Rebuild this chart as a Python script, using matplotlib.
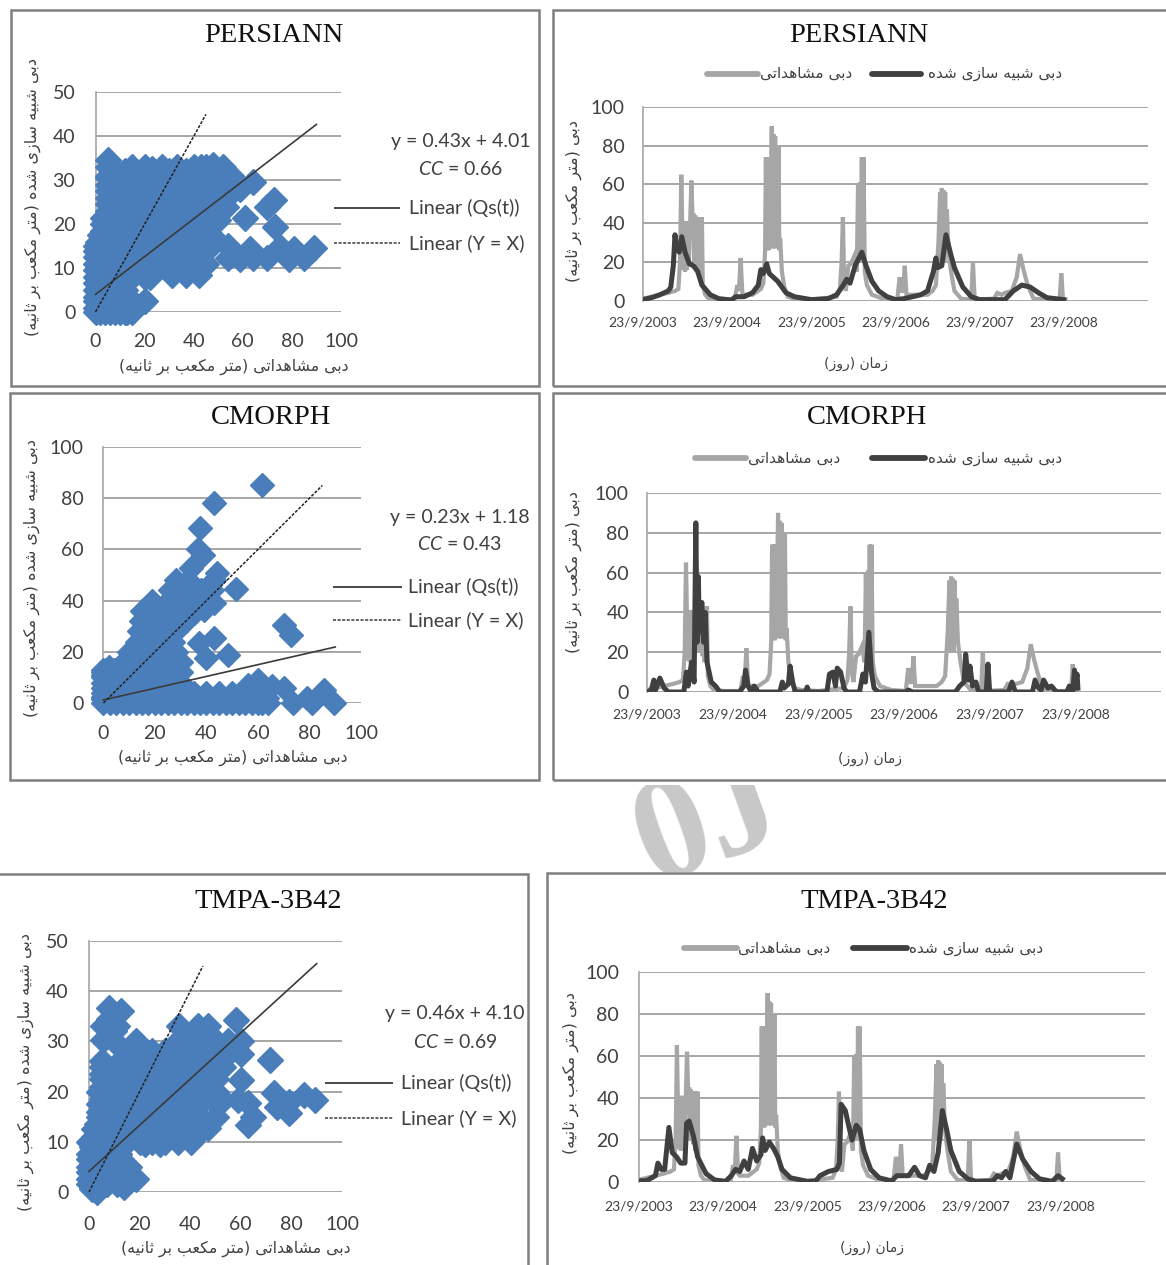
import matplotlib
matplotlib.use('Agg')
import matplotlib.pyplot as plt
from matplotlib.lines import Line2D
from matplotlib.patches import Rectangle
from matplotlib.transforms import Bbox

W, H = 1166, 1265

plt.rcParams['font.family'] = ['Lato', 'DejaVu Sans']
plt.rcParams['mathtext.fontset'] = 'custom'
plt.rcParams['mathtext.it'] = 'Lato:italic'
plt.rcParams['mathtext.rm'] = 'Lato'

# ---- labels
title_names = ['PERSIANN', 'CMORPH', 'TMPA-3B42']
date_labels = ['23/9/2003', '23/9/2004', '23/9/2005', '23/9/2006', '23/9/2007', '23/9/2008']
scatter_sim_label = 'دبی شبیه سازی شده (متر مکعب بر ثانیه)'
scatter_obs_label = 'دبی مشاهداتی (متر مکعب بر ثانیه)'
time_y_label = 'دبی (متر مکعب بر ثانیه)'
time_x_label = 'زمان (روز)'
legend_obs = 'دبی مشاهداتی'
legend_sim = 'دبی شبیه سازی شده'

# ---- fit lines: slope, intercept, cc, end of the fit line, end of the 1:1 line
fit_slope = [0.43, 0.23, 0.46]
fit_intercept = [4.01, 1.18, 4.10]
fit_cc = [0.66, 0.43, 0.69]
fit_end = [90, 90, 90]
identity_end = [45, 85, 45]
scatter_ymax = [50, 100, 50]

# ---- observed discharge, years since 23/9/2003 (same in all three time panels)
obs_t = [0, .1, .2, .3, .38, .42, .44, .455, .47, .48, .49, .5, .51, .52, .53, .54, .55, .56, .575, .59, .6, .61, .62,
         .63, .64, .65, .66, .67, .68, .69, .7, .71, .74, .78, .9, 1.09, 1.12, 1.14, 1.16, 1.18, 1.2, 1.3, 1.4, 1.43,
         1.45, 1.46, 1.47, 1.48, 1.49, 1.5, 1.51, 1.52, 1.53, 1.54, 1.55, 1.56, 1.57, 1.58, 1.59, 1.6, 1.61, 1.62,
         1.63, 1.65, 1.68, 1.72, 1.8, 2.0, 2.3, 2.34, 2.36, 2.375, 2.39, 2.41, 2.44, 2.47, 2.51, 2.54, 2.555, 2.57,
         2.58, 2.59, 2.6, 2.61, 2.62, 2.635, 2.66, 2.72, 2.85, 3.02, 3.05, 3.07, 3.09, 3.11, 3.13, 3.3, 3.38, 3.44,
         3.48, 3.51, 3.53, 3.54, 3.55, 3.56, 3.57, 3.58, 3.59, 3.6, 3.61, 3.63, 3.66, 3.7, 3.78, 3.9, 3.92, 3.94,
         4.17, 4.21, 4.26, 4.3, 4.38, 4.44, 4.48, 4.52, 4.57, 4.64, 4.8, 4.95, 4.97, 4.99, 5.02]
obs_q = [1, 2, 3, 4, 5, 6, 20, 65, 30, 16, 41, 15, 41, 16, 41, 18, 25, 40, 62, 40, 45, 20, 44, 25, 43, 18, 43, 15, 43,
         25, 43, 8, 3, 1, 0.5, 0.5, 8, 5, 22, 4, 3, 3, 6, 9, 25, 74, 27, 74, 26, 74, 28, 60, 90, 27, 86, 28, 85, 27,
         80, 30, 80, 26, 32, 15, 7, 2, 1, 0.5, 2, 6, 20, 43, 10, 5, 18, 19, 23, 15, 60, 20, 61, 25, 74, 20, 74, 15, 8,
         3, 1, 0.5, 12, 5, 5, 18, 3, 3, 3, 5, 8, 30, 56, 20, 58, 22, 57, 20, 56, 25, 47, 25, 15, 5, 1, 0.5, 20, 0.5,
         1, 4, 3, 4, 5, 12, 24, 16, 8, 1, 0.5, 0.5, 14, 0.5, 0.5]

# ---- simulated discharge
persiann_t = [0, .1, .2, .3, .33, .36, .38, .4, .43, .46, .5, .55, .6, .65, .7, .8, .9, 1.05, 1.1, 1.2, 1.3, 1.37, 1.4,
              1.43, 1.47, 1.5, 1.6, 1.7, 1.8, 2.0, 2.2, 2.3, 2.38, 2.42, 2.46, 2.52, 2.6, 2.65, 2.72, 2.8, 2.9, 3.0,
              3.1, 3.3, 3.38, 3.45, 3.48, 3.5, 3.55, 3.6, 3.65, 3.7, 3.8, 3.9, 4.0, 4.3, 4.4, 4.5, 4.6, 4.7, 4.8, 5.0]
persiann_q = [0.5, 1.5, 3, 5, 7, 18, 34, 27, 25, 33, 25, 19, 18, 15, 8, 3, 1, 0.3, 2, 2, 4, 8, 16, 14, 19, 14, 10, 4, 2,
              0.5, 1, 3, 8, 11, 9, 18, 25, 18, 10, 5, 2, 0.5, 1, 3, 5, 15, 22, 17, 18, 34, 25, 17, 7, 2, 0.5, 0.5, 5, 8,
              7, 4, 1.5, 0.5]

cmorph_t = [0, .05, .08, .1, .15, .2, .25, .43, .46, .48, .52, .55, .57, .585, .6, .61, .64, .66, .68, .7, .75, .8, .85,
            1.08, 1.13, 1.15, 1.18, 1.22, 1.25, 1.3, 1.55, 1.58, 1.6, 1.65, 1.67, 1.7, 1.73, 1.85, 1.87, 1.89, 2.1,
            2.13, 2.17, 2.2, 2.22, 2.26, 2.3, 2.33, 2.48, 2.52, 2.55, 2.59, 2.62, 2.65, 2.7, 3.02, 3.05, 3.1, 3.6,
            3.65, 3.7, 3.72, 3.75, 3.77, 3.8, 3.84, 3.87, 3.96, 3.98, 4.0, 4.22, 4.26, 4.3, 4.5, 4.53, 4.57, 4.6,
            4.63, 4.68, 4.72, 4.78, 4.9, 4.93, 4.97, 4.99, 5.0, 5.02, 5.03]
cmorph_q = [0, 1, 6, 1, 7, 2, 0, 0, 10, 3, 15, 5, 85, 25, 58, 30, 45, 25, 40, 15, 5, 3, 0, 0, 3, 11, 3, 0, 3, 0, 0, 5,
            2, 4, 13, 5, 0, 0, 2.5, 0, 0, 9, 10, 3, 12, 10, 2, 0, 0, 9, 5, 30, 10, 2, 0, 0, 1, 0, 0, 3, 5, 19, 6, 13,
            3, 5, 0, 0, 14, 0, 0, 5, 0, 0, 6, 2, 1, 6, 2, 3, 0, 0, 3, 0, 11, 3, 9, 2]

tmpa_t = [0, .1, .2, .23, .27, .31, .36, .4, .45, .5, .55, .57, .6, .65, .7, .8, .9, 1.03, 1.1, 1.15, 1.2, 1.25, 1.3,
          1.35, 1.4, 1.45, 1.47, 1.5, 1.55, 1.6, 1.65, 1.7, 1.8, 2.0, 2.1, 2.15, 2.25, 2.35, 2.38, 2.4, 2.45, 2.5,
          2.53, 2.58, 2.62, 2.67, 2.75, 2.85, 3.0, 3.06, 3.2, 3.27, 3.33, 3.4, 3.45, 3.5, 3.55, 3.6, 3.65, 3.7, 3.8,
          3.9, 4.0, 4.2, 4.25, 4.3, 4.35, 4.4, 4.48, 4.55, 4.65, 4.75, 4.9, 4.97, 5.02]
tmpa_q = [0.5, 0.7, 3, 9, 6, 6, 26, 14, 12, 9, 9, 28, 29, 22, 12, 4, 1, 0.3, 3, 6, 5, 10, 6, 16, 10, 13, 21, 15, 19, 16,
          12, 6, 2, 0.3, 0.5, 3, 5, 6, 9, 37, 34, 25, 20, 27, 25, 15, 6, 2, 0.5, 3, 3, 7, 3, 2, 8, 5, 14, 34, 25, 15,
          5, 1.5, 0.3, 0.5, 3, 2, 5, 2, 18, 11, 5, 1.5, 0.3, 3, 1.5]

# ---- scatter points read from the blobs, grouped by simulated level
persiann_levels = [0, 2.5, 5, 8, 8.5, 11, 14, 17, 20, 23, 26, 29, 31, 33]
persiann_obs = [[0, 4, 8, 12, 15], [0, 5, 10, 15, 20], [0, 4, 8, 12], [0, 5, 10, 15, 20, 22], [31, 37, 42],
                [0, 5, 10, 15, 20, 25, 30, 35, 40, 45], [0, 5, 10, 15, 20, 25, 30, 35, 40, 45],
                [3, 8, 13, 18, 23, 28, 33, 38, 43, 48], [3, 8, 13, 18, 23, 28, 33, 38, 43, 48],
                [5, 10, 15, 20, 25, 30, 35, 40, 45, 50], [5, 10, 15, 20, 25, 30, 35, 40, 48],
                [5, 10, 15, 20, 25, 30, 35, 40, 45, 50, 55], [5, 10, 15, 20, 25, 30, 35, 40, 45, 50, 55],
                [5, 15, 20, 27, 33, 40, 45, 52]]
persiann_extra_obs = [54, 59, 64, 70, 79, 85, 89, 81, 75, 63, 54, 72.6, 70, 61, 73.3, 64, 59, 53, 48, 5,
                      0, 0, 0, 0, 0, 0, 1, 2, 3, 3, 4.5, 5, 5, 5, 2, 6, 10, 13, 8, 12, 23, 30, 37, 43, 48, 55, 50, 52, 55, 43]
persiann_extra_sim = [12.4, 12, 12.4, 12.4, 12, 12.4, 14.5, 14.3, 14.7, 14.3, 15, 25.6, 23.8, 21.5, 19.3, 29.5, 28, 24, 26, 34.5,
                      1, 3.5, 6.5, 9.5, 12.5, 15, 16, 17.5, 18.5, 21.5, 22, 24.5, 27.5, 30.5, 0, 0, 0, 0, 32, 32, 32.5, 32, 32, 33, 33.5, 31, 21, 24, 27, 13.5]

cmorph_levels = [0, 4, 8, 12, 13, 16, 20, 24, 28, 32, 36, 40, 44, 48]
cmorph_obs = [[0, 5, 10, 15, 20, 25, 30, 35, 40, 45, 50, 55, 60, 64, 73.5, 81, 89.6],
              [0, 5, 10, 15, 20, 25, 30, 35, 40, 45, 50, 55],
              [0, 5, 10, 15, 20, 25, 30], [0, 5, 10, 15, 20, 25, 30], [1, 4],
              [8, 12, 16, 20, 25, 30], [10, 13, 16, 20, 24, 28], [13, 16, 20, 24, 27],
              [14, 16, 20, 24, 28], [14.6, 18, 20, 24, 28, 32], [15, 20, 24, 28, 32, 36],
              [18.7, 25, 29, 33, 37], [26, 30, 34, 38, 42], [28, 33, 43]]
cmorph_extra_obs = [61.5, 43, 37.4, 36.8, 38.8, 34, 44, 51.5, 43, 39, 35, 70, 73, 43, 37, 48.4, 40, 60, 56, 70, 79, 85.6, 63.5, 57, 65.5,
                    0, 0, 0, 0, 0, 0, 2.5, 7.5, 12.5, 17.5, 22.5, 27.5, 32.5, 37.5, 42.5, 47.5, 52.5, 57.5, 61.5, 2, 6, 6]
cmorph_extra_sim = [85.3, 78, 68.4, 60, 58, 52.7, 50.8, 44.5, 39, 36.5, 35, 30.6, 26.7, 25.4, 23.4, 18.9, 17.6, 9, 7, 6, 2, 5, 2, 5, 6.5,
                    1.5, 2.5, 6, 10, 11, 13, 0, 0, 0, 0, 0, 0, 0, 0, 0, 0, 0, 0, 0, 14, 14, 10]

tmpa_levels = [0.5, 2.5, 5, 7.5, 10, 12.5, 15, 17.5, 20, 22.5, 25, 27.5, 30, 33]
tmpa_obs = [[1, 4], [0, 5, 10, 15, 18.6], [0, 5, 10, 13, 16], [0, 5, 10, 12],
            [0, 5, 10, 15, 20, 25, 30, 35], [2, 7, 12, 17, 22, 27, 32, 37, 42, 45],
            [4, 9, 14, 19, 24, 29, 34, 39, 44, 50], [4, 9, 14, 19, 24, 29, 34, 39, 44, 50],
            [4, 9, 14, 19, 24, 29, 34, 39, 44, 50], [5, 10, 15, 20, 25, 30, 35, 40, 45, 50],
            [5, 10, 15, 20, 25, 30, 35, 40, 45, 50, 53], [15, 20, 25, 30, 35, 40, 45, 50, 55, 60],
            [18.6, 35, 40, 45, 50, 55, 60], [35.6, 43, 47]]
tmpa_extra_obs = [71.7, 60, 85, 89.4, 79, 73, 74.4, 79, 63, 65, 47, 40.4, 58, 7.8, 12.5, 5.7, 5.7, 11, 10, 53, 59, 63,
                  0, 0, 0, 1, 2, 3, 4, 5, 5, 5, 5, 3, 7, 11, 14, 25, 30, 22, 28, 8, 10]
tmpa_extra_sim = [26.2, 22.3, 19.4, 18.4, 18, 19.7, 17, 15.7, 13.4, 15, 12.7, 10, 34.3, 36.6, 36, 33, 30.3, 33, 30, 18.4, 18.4, 17.7,
                  1.5, 4, 6.5, 9, 11, 13.5, 16, 18.5, 21, 23.5, 26, 0, 1.5, 1.5, 1, 28, 28, 9.5, 9.5, 34.5, 32]


def shape_persian(text):
    # matplotlib does not join or reorder Arabic script, so pick the forms by hand
    forms = {'ا': 'ﺍﺎ', 'د': 'ﺩﺪ', 'ر': 'ﺭﺮ', 'ز': 'ﺯﺰ', 'و': 'ﻭﻮ',
             'ب': 'ﺏﺐﺑﺒ', 'ت': 'ﺕﺖﺗﺘ', 'ث': 'ﺙﺚﺛﺜ', 'س': 'ﺱﺲﺳﺴ', 'ش': 'ﺵﺶﺷﺸ', 'ع': 'ﻉﻊﻋﻌ',
             'م': 'ﻡﻢﻣﻤ', 'ن': 'ﻥﻦﻧﻨ', 'ه': 'ﻩﻪﻫﻬ', 'ی': 'ﯼﯽﯾﯿ', 'ک': 'ﮎﮏﮐﮑ'}
    out = []
    for i, ch in enumerate(text):
        if ch not in forms:
            out.append({'(': ')', ')': '('}.get(ch, ch))
            continue
        prev_ch = text[i - 1] if i > 0 else ' '
        next_ch = text[i + 1] if i + 1 < len(text) else ' '
        after_joiner = prev_ch in forms and len(forms[prev_ch]) == 4
        before_letter = next_ch in forms and len(forms[ch]) == 4
        if after_joiner and before_letter:
            out.append(forms[ch][3])
        elif after_joiner:
            out.append(forms[ch][1])
        elif before_letter:
            out.append(forms[ch][2])
        else:
            out.append(forms[ch][0])
    return ''.join(reversed(out))


fig = plt.figure(figsize=(W / 100, H / 100), dpi=100)
fig.patch.set_facecolor('white')


def fx(x):
    return x / W


def fy(y):
    return 1 - y / H


def axes_px(left, right, top, bottom):
    ax = fig.add_axes([fx(left), fy(bottom), fx(right - left), (bottom - top) / H])
    ax.patch.set_alpha(0)
    return ax


def label(x, y, text, size=10, color='#404040', **kw):
    kw.setdefault('ha', 'center')
    kw.setdefault('va', 'center')
    return fig.text(fx(x), fy(y), text, fontsize=size, color=color, **kw)


def fa_label(x, y, text, size=10, **kw):
    return label(x, y, shape_persian(text), size=size, family='DejaVu Sans', **kw)


def hline(x0, x1, y, color, lw, ls='-', cap='butt'):
    fig.add_artist(Line2D([fx(x0), fx(x1)], [fy(y), fy(y)], color=color, lw=lw, ls=ls, solid_capstyle=cap))


def frame(x0, x1, y0, y1):
    fig.add_artist(Rectangle((fx(x0), fy(y1)), fx(x1 - x0), (y1 - y0) / H, fill=False,
                             edgecolor='#7f7f7f', lw=1.8))


def style_axes(ax, ymax, ystep, xpad, ypad, ysize=14):
    ax.set_ylim(0, ymax)
    ax.set_yticks(range(0, ymax + 1, ystep))
    ax.grid(axis='y', color='#a6a6a6', lw=1.4)
    ax.set_axisbelow(True)
    for side in ['top', 'right', 'bottom']:
        ax.spines[side].set_visible(False)
    ax.spines['left'].set_color('#a6a6a6')
    ax.spines['left'].set_linewidth(1.2)
    ax.tick_params(axis='both', length=0, labelcolor='#404040')
    ax.tick_params(axis='y', pad=ypad, labelsize=ysize)
    ax.tick_params(axis='x', pad=xpad)


def draw_scatter(i, box, levels, obs_rows, extra_obs, extra_sim, ms, layout):
    obs, sim = [], []
    for level, row in zip(levels, obs_rows):
        obs.extend(row)
        sim.extend([level] * len(row))
    obs.extend(extra_obs)
    sim.extend(extra_sim)

    ax = axes_px(*box)
    ax.set_xlim(0, 100)
    ax.set_xticks(range(0, 101, 20))
    style_axes(ax, scatter_ymax[i], scatter_ymax[i] // 5, layout['xpad'], layout['ypad'])
    ax.tick_params(axis='x', labelsize=14)
    ax.plot(obs, sim, ls='none', marker='D', ms=ms, color='#4a7ebb', mec='#4a7ebb', clip_on=False, zorder=3)

    fit_x = [0, fit_end[i]]
    fit_y = [fit_intercept[i] + fit_slope[i] * v for v in fit_x]
    ax.plot(fit_x, fit_y, color='#3a3a3a', lw=1.2, zorder=4, clip_on=False)
    ax.plot([0, identity_end[i]], [0, identity_end[i]], color='#222222', lw=1.1, ls=(0, (2, 1)), zorder=4, clip_on=False)

    cx, y1, y2 = layout['eq']
    label(cx, y1, f'y = {fit_slope[i]:.2f}x + {fit_intercept[i]:.2f}', size=14)
    label(cx, y2, f'$\\mathit{{CC}}$ = {fit_cc[i]:.2f}', size=14)

    lx0, lx1, tx, ly1, ly2 = layout['legend']
    hline(lx0, lx1, ly1, '#3a3a3a', 1.3)
    hline(lx0, lx1, ly2, '#3a3a3a', 1.1, ls=(0, (2, 1)))
    label(tx, ly1, 'Linear (Qs(t))', size=14.2, ha='left')
    label(tx, ly2, 'Linear (Y = X)', size=14.2, ha='left')

    fa_label(*layout['ylabel'], scatter_sim_label, size=11.5, rotation=90)
    fa_label(*layout['xlabel'], scatter_obs_label, size=11.3)
    tx, ty = layout['title']
    label(tx, ty + 2, title_names[i], size=20.5, color='#111111', family='Liberation Serif')


def draw_time(i, box, sim_t, sim_q, layout):
    ax = axes_px(*box)
    ax.set_xlim(0, 6)
    ax.set_xticks(range(6))
    ax.set_xticklabels(date_labels)
    style_axes(ax, 100, 20, layout['xpad'], layout['ypad'])
    ax.tick_params(axis='x', labelsize=10)
    ax.plot(obs_t, obs_q, color='#a6a6a6', lw=3, solid_joinstyle='miter', zorder=3)
    ax.plot(sim_t, sim_q, color='#404040', lw=3.6, zorder=4)

    ly, g0, g1, gt, d0, d1, dt = layout['legend']
    hline(g0, g1, ly, '#a6a6a6', 4.2, cap='round')
    hline(d0, d1, ly, '#404040', 4.2, cap='round')
    fa_label(gt, ly, legend_obs, size=11, ha='left')
    fa_label(dt, ly, legend_sim, size=11, ha='left')

    fa_label(*layout['ylabel'], time_y_label, size=11.5, rotation=90)
    fa_label(*layout['xlabel'], time_x_label, size=10)
    tx, ty = layout['title']
    label(tx, ty + 2, title_names[i], size=20.5, color='#111111', family='Liberation Serif')


frame(11, 539, 10, 386)
frame(553, 1180, 10, 386)
frame(10, 539, 393, 780)
frame(553, 1180, 393, 780)
frame(-5, 528, 874, 1290)
frame(547, 1180, 873, 1290)

draw_scatter(0, (95.5, 341, 92.4, 312), persiann_levels, persiann_obs, persiann_extra_obs, persiann_extra_sim, 13.2,
             {'xpad': 15, 'ypad': 14.5, 'eq': (461, 142, 169), 'legend': (334, 400, 409, 208, 243),
              'ylabel': (33, 197), 'xlabel': (234, 367), 'title': (274, 33)})
draw_scatter(1, (103.4, 361, 447, 703), cmorph_levels, cmorph_obs, cmorph_extra_obs, cmorph_extra_sim, 12.2,
             {'xpad': 15.5, 'ypad': 14, 'eq': (460, 517, 544), 'legend': (333, 402, 408, 587, 620),
              'ylabel': (32, 578), 'xlabel': (233, 758), 'title': (271, 416)})
draw_scatter(2, (89, 342, 941, 1192), tmpa_levels, tmpa_obs, tmpa_extra_obs, tmpa_extra_sim, 13.4,
             {'xpad': 17, 'ypad': 14.5, 'eq': (455, 1014, 1042), 'legend': (325, 393, 401, 1083, 1118),
              'ylabel': (26, 1072), 'xlabel': (236, 1249), 'title': (268, 899)})

draw_time(0, (643, 1148, 107, 300.6), persiann_t, persiann_q,
          {'xpad': 11.5, 'ypad': 13, 'legend': (73.6, 707, 758, 760, 872, 921, 928),
           'ylabel': (574, 201), 'xlabel': (856, 364), 'title': (859, 33)})
draw_time(1, (647, 1161, 493, 692), cmorph_t, cmorph_q,
          {'xpad': 12, 'ypad': 13, 'legend': (458, 695, 746, 748, 872, 925, 928),
           'ylabel': (574, 572), 'xlabel': (870, 759), 'title': (867, 416)})
draw_time(2, (638.5, 1145, 972, 1182), tmpa_t, tmpa_q,
          {'xpad': 13, 'ypad': 14, 'legend': (948, 684, 737, 738, 853, 907, 909),
           'ylabel': (571, 1073), 'xlabel': (872, 1248), 'title': (874.5, 899)})

# watermark, cut off by the band it sits in
mark = fig.text(fx(708), fy(826), '0J', fontsize=105, color='#c8c8c8', family='Liberation Serif',
                fontweight='bold', rotation=20, ha='center', va='center', zorder=0)
mark.set_clip_box(Bbox([[0, H - 872], [W, H - 785]]))
mark.set_clip_on(True)

fig.savefig('out.png', dpi=100)
